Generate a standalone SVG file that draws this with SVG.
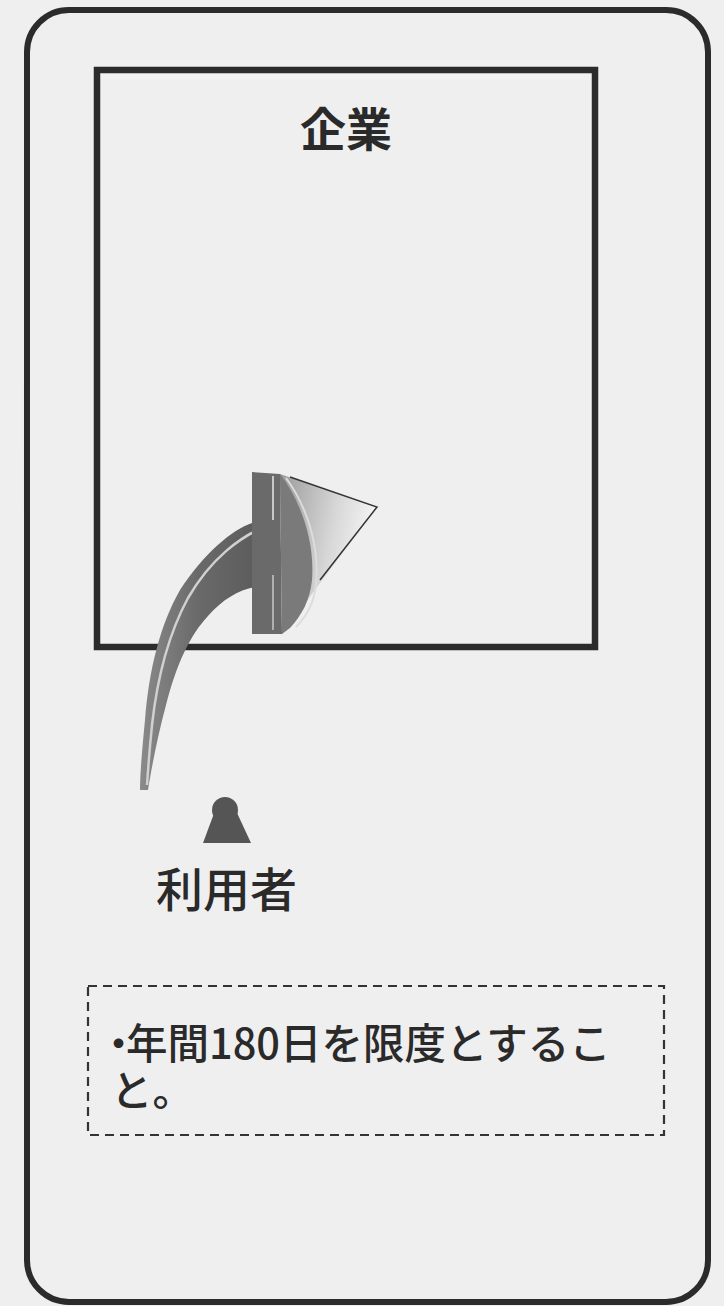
<svg xmlns="http://www.w3.org/2000/svg" width="724" height="1306" viewBox="0 0 724 1306">
  <style>
    .frame { fill: none; stroke: #2b2b2b; stroke-width: 6; }
    .box { fill: none; stroke: #2b2b2b; stroke-width: 6.5; }
    .note { fill: none; stroke: #333333; stroke-width: 2.2; stroke-dasharray: 9 6; }
    .label { font-family: "Noto Sans CJK JP", "Noto Sans", sans-serif; fill: #2a2a2a; }
    .narrow { font-feature-settings: "palt"; }
  </style>
  <defs>
    <linearGradient id="shaftGrad" x1="0" y1="0" x2="1" y2="0">
      <stop offset="0" stop-color="#8a8a8a"/>
      <stop offset="0.5" stop-color="#6a6a6a"/>
      <stop offset="1" stop-color="#5c5c5c"/>
    </linearGradient>
    <linearGradient id="headGrad" x1="0" y1="0" x2="1" y2="0.3">
      <stop offset="0" stop-color="#9a9a9a"/>
      <stop offset="0.6" stop-color="#d8d8d8"/>
      <stop offset="1" stop-color="#f6f6f6"/>
    </linearGradient>
  </defs>

  <!-- page background -->
  <rect x="0" y="0" width="724" height="1306" fill="#efefef"/>

  <!-- outer rounded frame -->
  <g id="frame">
    <rect class="frame" x="27" y="10" width="681" height="1292" rx="42" ry="42"/>
  </g>

  <!-- company box -->
  <g id="company">
    <rect class="box" x="97" y="70" width="498" height="577" fill="#f2f2f2"/>
    <text class="label" x="346" y="146" font-size="46" font-weight="700" text-anchor="middle">企業</text>
  </g>

  <!-- curved arrow from user into company -->
  <g id="connectors">
    <g id="arrow">
      <!-- shaft -->
      <path d="M252,523 C232,530 205,552 180,590 C160,625 149,670 145,720 C142,750 140,775 140,790 L148,790 C152,765 158,735 166,705 C176,665 190,635 208,616 C222,600 238,590 255,587 Z" fill="url(#shaftGrad)"/>
      <!-- highlight along the shaft -->
      <path d="M272,524 C240,535 210,560 188,598 C168,635 157,680 152,725 C150,745 148,770 147,785" fill="none" stroke="#d0d0d0" stroke-width="2.5"/>
      <!-- head: back side -->
      <polygon points="252,472 280,474 282,634 252,634" fill="#6a6a6a"/>
      <!-- head: front face -->
      <path d="M280,474 L377,507 L282,634 Z" fill="url(#headGrad)"/>
      <!-- head: shaded crescent -->
      <path d="M280,474 C300,500 315,540 312,580 C310,600 302,615 290,628 L282,634 Z" fill="#7a7a7a"/>
      <path d="M286,478 C306,505 320,545 316,585 C314,603 306,617 296,627" fill="none" stroke="#dcdcdc" stroke-width="2"/>
      <line x1="273" y1="476" x2="273" y2="520" stroke="#c8c8c8" stroke-width="2"/>
      <line x1="273" y1="575" x2="273" y2="630" stroke="#b0b0b0" stroke-width="2"/>
      <!-- head outline on the light side -->
      <path d="M290,477 L377,507 L320,580" fill="none" stroke="#333333" stroke-width="1.5"/>
    </g>
  </g>

  <!-- user -->
  <g id="user">
    <circle cx="225" cy="810" r="13" fill="#555555"/>
    <polygon points="219,800 231,800 251,843 203,843" fill="#555555"/>
    <text class="label" x="156" y="907" font-size="47" font-weight="500">利用者</text>
  </g>

  <!-- note -->
  <g id="note">
    <rect class="note" x="88" y="986" width="576" height="149"/>
    <text class="label" font-size="41.5" font-weight="500">
      <tspan class="narrow" x="108" y="1059">・</tspan><tspan x="126" y="1059">年間180日を限度とするこ</tspan>
      <tspan x="111" y="1106">と。</tspan>
    </text>
  </g>
</svg>
